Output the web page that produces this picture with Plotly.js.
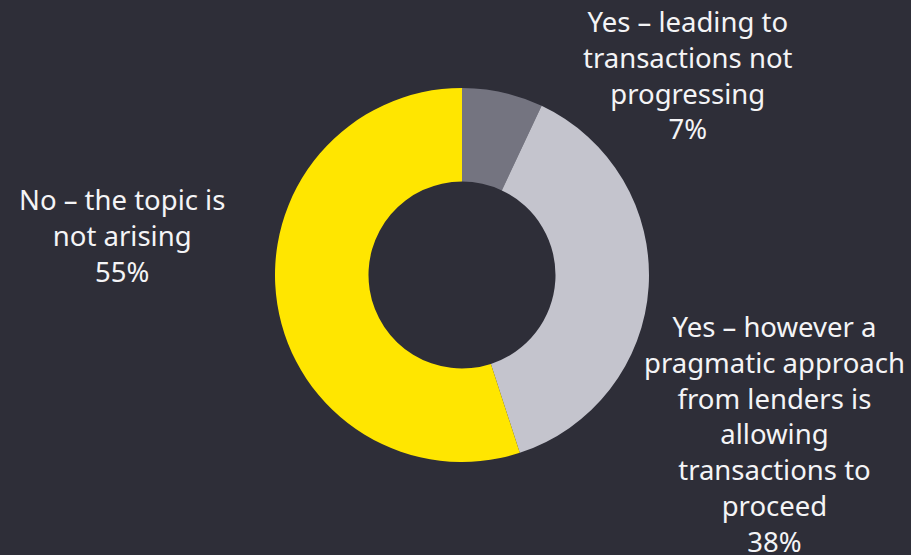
<!DOCTYPE html>
<html>
<head>
<meta charset="utf-8">
<script src="https://cdn.plot.ly/plotly-3.0.1.min.js"></script>
<style>html,body{margin:0;padding:0;background:#2e2e38;}#chart{width:911px;height:555px;}</style>
</head>
<body>
<div id="chart"></div>
<script>
const categories = [
  "Yes – leading to<br>transactions not<br>progressing",
  "Yes – however a<br>pragmatic approach<br>from lenders is<br>allowing<br>transactions to<br>proceed",
  "No – the topic is<br>not arising"
];
const values = [7, 38, 55];
const sliceColors = ["#747480", "#c4c4cd", "#ffe600"];
const labelPos = [[688, 75], [774, 434], [122, 235]];

const W = 911, H = 555;
const annotations = categories.map((c, i) => ({
  text: c + "<br>" + values[i] + "%",
  x: labelPos[i][0] / W, y: 1 - labelPos[i][1] / H,
  xref: "paper", yref: "paper", xanchor: "center", yanchor: "middle",
  showarrow: false, align: "center",
  font: {family: "Noto Sans, sans-serif", size: 27.5, color: "#f4f4f6"}
}));

Plotly.newPlot("chart", [{
  type: "pie",
  labels: categories,
  values: values,
  hole: 0.5,
  sort: false,
  direction: "clockwise",
  rotation: 0,
  textinfo: "none",
  marker: {colors: sliceColors, line: {width: 0}},
  domain: {x: [275 / W, 649 / W], y: [93 / H, 467 / H]}
}], {
  width: W, height: H,
  paper_bgcolor: "#2e2e38", plot_bgcolor: "#2e2e38",
  margin: {l: 0, r: 0, t: 0, b: 0},
  showlegend: false,
  annotations: annotations
}, {displayModeBar: false, staticPlot: true});
</script>
</body>
</html>
